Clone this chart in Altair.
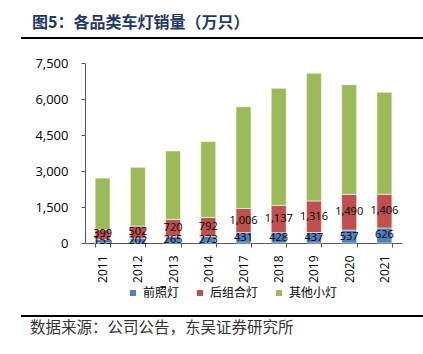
import altair as alt
import pandas as pd

years = ["2011", "2012", "2013", "2014", "2017", "2018", "2019", "2020", "2021"]
front = [155, 202, 265, 273, 431, 428, 437, 537, 626]
rear = [399, 502, 720, 792, 1006, 1137, 1316, 1490, 1406]
other = [2150, 2450, 2850, 3160, 4240, 4880, 5320, 4570, 4250]
series_names = ["前照灯", "后组合灯", "其他小灯"]
series_colors = ["#4F81BD", "#C0504D", "#9BBB59"]
y_ticks = [0, 1500, 3000, 4500, 6000, 7500]
title_text = "图5：各品类车灯销量（万只）"
source_text = "数据来源：公司公告，东吴证券研究所"

rows = []
for i, yr in enumerate(years):
    base = 0
    for name, vals in zip(series_names, [front, rear, other]):
        v = vals[i]
        rows.append({"year": yr, "series": name, "value": v,
                     "start": base, "end": base + v, "mid": base + v / 2})
        base += v
df = pd.DataFrame(rows)
lab = df[df["series"] != "其他小灯"]

W, H = 317, 180
xscale = alt.Scale(domain=years, paddingInner=0.574, paddingOuter=0.287)
yscale = alt.Scale(domain=[0, 7500], nice=False)
xaxis = alt.Axis(labelAngle=270, labelAlign="right", labelBaseline="middle",
                 labelFont="Open Sans", labelFontSize=12, labelColor="#000000",
                 labelPadding=8, tickBand="extent", tickSize=4,
                 tickColor="#595959", domainColor="#595959", title=None)
yaxis = alt.Axis(values=y_ticks, format=",.0f", labelFont="Open Sans",
                 labelFontSize=13, labelColor="#000000", labelPadding=13,
                 labelOverlap=False, tickSize=4, tickColor="#595959",
                 domainColor="#595959", grid=False, title=None)

bars = alt.Chart(df).mark_bar(stroke="white", strokeWidth=0.8, strokeOpacity=0.7).encode(
    x=alt.X("year:N", scale=xscale, sort=years, axis=xaxis),
    y=alt.Y("start:Q", scale=yscale, axis=yaxis),
    y2="end:Q",
    color=alt.Color("series:N",
                    scale=alt.Scale(domain=series_names, range=series_colors),
                    legend=alt.Legend(orient="none", legendX=42, legendY=224,
                                      direction="horizontal", title=None,
                                      symbolType="square", symbolSize=36,
                                      symbolStrokeWidth=0, labelFont="Noto Sans CJK SC",
                                      labelFontSize=12, labelColor="#000000",
                                      labelOffset=4, columnPadding=14, padding=0)),
)

labels = alt.Chart(lab).mark_text(font="Open Sans", fontSize=11, color="#000000",
                                  baseline="middle").encode(
    x=alt.X("year:N", scale=xscale, sort=years, axis=xaxis),
    y=alt.Y("mid:Q", scale=yscale, axis=yaxis),
    text=alt.Text("value:Q", format=",.0f"),
)

one = pd.DataFrame({"t": [title_text]})
title = alt.Chart(one).mark_text(font="Noto Sans CJK SC", fontSize=16, fontWeight="bold",
                                 color="#1F3864", align="left", baseline="middle").encode(
    x=alt.value(-53), y=alt.value(-40), text="t:N")
src = pd.DataFrame({"t": [source_text]})
source = alt.Chart(src).mark_text(font="Noto Sans CJK SC", fontSize=15.5, color="#333333",
                                  align="left", baseline="middle").encode(
    x=alt.value(-55), y=alt.value(265), text="t:N")
line_top = alt.Chart(one).mark_rule(color="#000000", strokeWidth=2).encode(
    x=alt.value(-64), x2=alt.value(338), y=alt.value(-25))
line_bot = alt.Chart(one).mark_rule(color="#000000", strokeWidth=2).encode(
    x=alt.value(-64), x2=alt.value(338), y=alt.value(253))

chart = alt.layer(bars, labels, title, source, line_top, line_bot).properties(
    width=W, height=H,
    autosize=alt.AutoSizeParams(type="none"),
    padding={"left": 85, "top": 63, "right": 21, "bottom": 111},
).configure_view(stroke=None)

chart.save("out.html", embed_options={"renderer": "svg", "actions": False})
